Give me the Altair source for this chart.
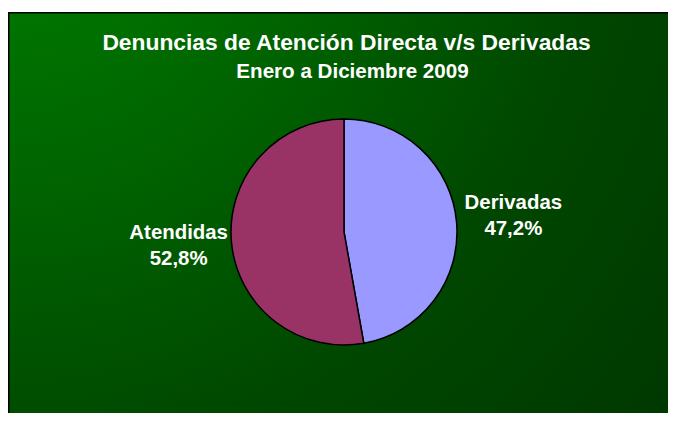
import altair as alt
import pandas as pd

# ---- data ----
categories = ["Derivadas", "Atendidas"]
values = [47.2, 52.8]
pct_labels = ["47,2%", "52,8%"]
slice_colors = ["#9999FF", "#993366"]
title_text = ["Denuncias de Atención Directa v/s Derivadas"]
subtitle_text = ["Enero a Diciembre 2009"]

df = pd.DataFrame({
    "cat": categories,
    "value": values,
    "pct": pct_labels,
    "order": list(range(len(categories))),
})
df["label"] = df["cat"] + "\n" + df["pct"]

W, H = 660, 405
CX, CY = 336, 224
R = 113
FONT = "Liberation Sans"

grad = alt.RadialGradient(
    gradient="radial",
    stops=[
        alt.GradientStop(color="#008000", offset=0),
        alt.GradientStop(color="#006400", offset=0.35),
        alt.GradientStop(color="#004600", offset=0.69),
        alt.GradientStop(color="#003800", offset=1),
    ],
    x1=0, y1=0, r1=0, x2=0, y2=0, r2=1.3,
)

one = pd.DataFrame({"a": [0]})
bg = alt.Chart(one).mark_rect(fill=grad, strokeWidth=0).encode(
    x=alt.value(0), x2=alt.value(W), y=alt.value(4), y2=alt.value(H)
)
top_border = alt.Chart(one).mark_rule(color="black", strokeWidth=1.5).encode(
    x=alt.value(0), x2=alt.value(W), y=alt.value(4.75)
)
left_border = alt.Chart(one).mark_rule(color="black", strokeWidth=1.5).encode(
    x=alt.value(0.75), y=alt.value(4), y2=alt.value(H)
)

base = alt.Chart(df).encode(
    theta=alt.Theta("value:Q", stack=True),
    order=alt.Order("order:Q"),
)

pie = base.mark_arc(stroke="black", strokeWidth=1.5, outerRadius=R).encode(
    color=alt.Color("cat:N", scale=alt.Scale(domain=categories, range=slice_colors), legend=None),
    x=alt.value(CX), y=alt.value(CY),
)

labels = base.mark_text(
    radius=168, font=FONT, fontWeight="bold", fontSize=20.4, color="white",
    lineBreak="\n", lineHeight=26, align="center", baseline="middle",
    dx=2, dy=-14,
).encode(text="label:N", x=alt.value(CX), y=alt.value(CY))

title = alt.Chart(pd.DataFrame({"t": title_text})).mark_text(
    font=FONT, fontWeight="bold", fontSize=22.8, color="white",
    align="center", baseline="alphabetic",
).encode(text="t:N", x=alt.value(338.5), y=alt.value(42))

subtitle = alt.Chart(pd.DataFrame({"t": subtitle_text})).mark_text(
    font=FONT, fontWeight="bold", fontSize=20.6, color="white",
    align="center", baseline="alphabetic",
).encode(text="t:N", x=alt.value(344.5), y=alt.value(70))

chart = alt.layer(bg, top_border, left_border, pie, labels, title, subtitle).properties(
    width=W, height=H, padding=0, autosize=alt.AutoSizeParams(type="none"),
    background="white",
).configure_view(strokeWidth=0, stroke="transparent")

chart.save("out.html", embed_options={"renderer": "svg", "actions": False})
